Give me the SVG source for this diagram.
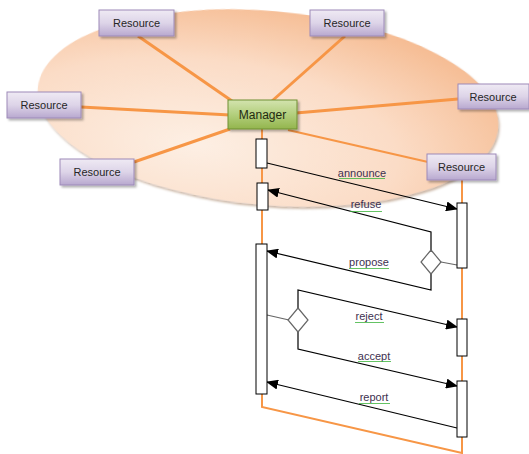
<svg xmlns="http://www.w3.org/2000/svg" width="529" height="454" viewBox="0 0 529 454">
<defs>
<radialGradient id="ell" cx="0.35" cy="0.72" r="0.8">
<stop offset="0" stop-color="#fdefe4"/>
<stop offset="0.55" stop-color="#fbdcc6"/>
<stop offset="1" stop-color="#f5b98e"/>
</radialGradient>
<linearGradient id="res" x1="0" y1="0" x2="0" y2="1">
<stop offset="0" stop-color="#efeaf4"/>
<stop offset="0.5" stop-color="#ddd4e8"/>
<stop offset="1" stop-color="#b8a8cf"/>
</linearGradient>
<linearGradient id="mgr" x1="0" y1="0" x2="0" y2="1">
<stop offset="0" stop-color="#d3e3ae"/>
<stop offset="0.5" stop-color="#b3cf7d"/>
<stop offset="1" stop-color="#93b54d"/>
</linearGradient>
<marker id="ah" markerWidth="12" markerHeight="10" refX="11" refY="5" orient="auto" markerUnits="userSpaceOnUse">
<path d="M0,0 L12,5 L0,10 Z" fill="#000"/>
</marker>
<pattern id="wavy" width="4" height="3" patternUnits="userSpaceOnUse">
<path d="M0,2 L1,1 L2,2 L3,1 L4,2" fill="none" stroke="#3cb43c" stroke-width="0.8"/>
</pattern>
<filter id="sh" x="-10%" y="-10%" width="130%" height="140%">
<feDropShadow dx="2" dy="2" stdDeviation="1" flood-color="#000" flood-opacity="0.3"/>
</filter>
<filter id="esh" x="-5%" y="-5%" width="110%" height="115%">
<feDropShadow dx="1.5" dy="2" stdDeviation="1" flood-color="#8a5a30" flood-opacity="0.45"/>
</filter>
</defs>
<style>
.star{stroke:#f79646;stroke-width:3;fill:none}
.life{stroke:#f79646;stroke-width:2;fill:none}
.rbox{fill:url(#res);stroke:#9d8ab8;stroke-width:1;filter:url(#sh)}
.rtxt{font-family:"Liberation Sans",Arial,sans-serif;font-size:11px;fill:#262626;text-anchor:middle}
.act{fill:#fff;stroke:#000;stroke-width:1}
.msg{stroke:#000;stroke-width:1.2;fill:none}
.gray{stroke:#666;stroke-width:1.2;fill:none}
.dia{fill:#fff;stroke:#666;stroke-width:1.2}
.lbl{font-family:"Liberation Sans",Arial,sans-serif;font-size:11px;fill:#3d3050;text-anchor:middle}
</style>
<ellipse cx="268" cy="108" rx="231" ry="97" transform="rotate(5 268 108)" fill="url(#ell)" filter="url(#esh)"/>
<g id="connectors">
<line class="star" x1="138" y1="36" x2="232" y2="101"/>
<line class="star" x1="345" y1="36" x2="272" y2="101"/>
<line class="star" x1="81" y1="107" x2="230" y2="115"/>
<line class="star" x1="134" y1="162" x2="230" y2="129"/>
<line class="star" x1="296" y1="113" x2="458" y2="99"/>
<line class="life" x1="288" y1="130" x2="428" y2="162"/>
<polyline class="life" points="262,129 262,407 462,453 462,180"/>
<line class="msg" x1="267" y1="163" x2="457" y2="209" marker-end="url(#ah)"/>
<polyline class="msg" points="431,250 431,232 268,190" marker-end="url(#ah)"/>
<line class="gray" x1="441" y1="262" x2="457" y2="265"/>
<polyline class="msg" points="431,273 431,290 267,251" marker-end="url(#ah)"/>
<line class="gray" x1="267" y1="315" x2="289" y2="320"/>
<polyline class="msg" points="298,308 298,290 457,327" marker-end="url(#ah)"/>
<polyline class="msg" points="298,331 298,349 457,386" marker-end="url(#ah)"/>
<line class="msg" x1="457" y1="428" x2="267" y2="382" marker-end="url(#ah)"/>
</g>
<g id="manager">
<rect x="228" y="100" width="69" height="29" fill="url(#mgr)" stroke="#6f8f33" stroke-width="1" filter="url(#sh)"/>
<text x="262.5" y="118.5" font-family="'Liberation Sans',Arial,sans-serif" font-size="12" fill="#1f2a10" text-anchor="middle">Manager</text>
</g>
<g id="res1"><rect class="rbox" x="99" y="10" width="75" height="26"/><text class="rtxt" x="136.5" y="27">Resource</text></g>
<g id="res2"><rect class="rbox" x="310" y="10" width="74" height="26"/><text class="rtxt" x="347" y="27">Resource</text></g>
<g id="res3"><rect class="rbox" x="7" y="92" width="74" height="26"/><text class="rtxt" x="44" y="109">Resource</text></g>
<g id="res4"><rect class="rbox" x="60" y="159" width="74" height="26"/><text class="rtxt" x="97" y="176">Resource</text></g>
<g id="res5"><rect class="rbox" x="458" y="84" width="71" height="25"/><text class="rtxt" x="493" y="101">Resource</text></g>
<g id="res6"><rect class="rbox" x="427" y="154" width="69" height="26"/><text class="rtxt" x="461.5" y="171">Resource</text></g>
<g id="activations">
<rect class="act" x="256" y="139" width="11" height="29"/>
<rect class="act" x="257" y="183" width="11" height="27"/>
<rect class="act" x="256" y="244" width="11" height="150"/>
<rect class="act" x="457" y="203" width="10" height="65"/>
<rect class="act" x="457" y="319" width="10" height="37"/>
<rect class="act" x="457" y="381" width="10" height="56"/>
</g>
<g id="decision1"><path class="dia" d="M431,250 L441,262 L431,274 L421,262 Z"/></g>
<g id="decision2"><path class="dia" d="M298,308 L308,320 L298,332 L288,320 Z"/></g>
<g id="labels">
<text class="lbl" x="362" y="177">announce</text>
<rect x="339" y="178" width="46" height="3" fill="url(#wavy)"/>
<text class="lbl" x="366" y="208">refuse</text>
<rect x="350" y="209" width="32" height="3" fill="url(#wavy)"/>
<text class="lbl" x="369" y="266">propose</text>
<rect x="349" y="267" width="40" height="3" fill="url(#wavy)"/>
<text class="lbl" x="369" y="320">reject</text>
<rect x="355" y="321" width="29" height="3" fill="url(#wavy)"/>
<text class="lbl" x="374" y="360">accept</text>
<rect x="358" y="361" width="33" height="3" fill="url(#wavy)"/>
<text class="lbl" x="374" y="401">report</text>
<rect x="359" y="402" width="31" height="3" fill="url(#wavy)"/>
</g>
</svg>
